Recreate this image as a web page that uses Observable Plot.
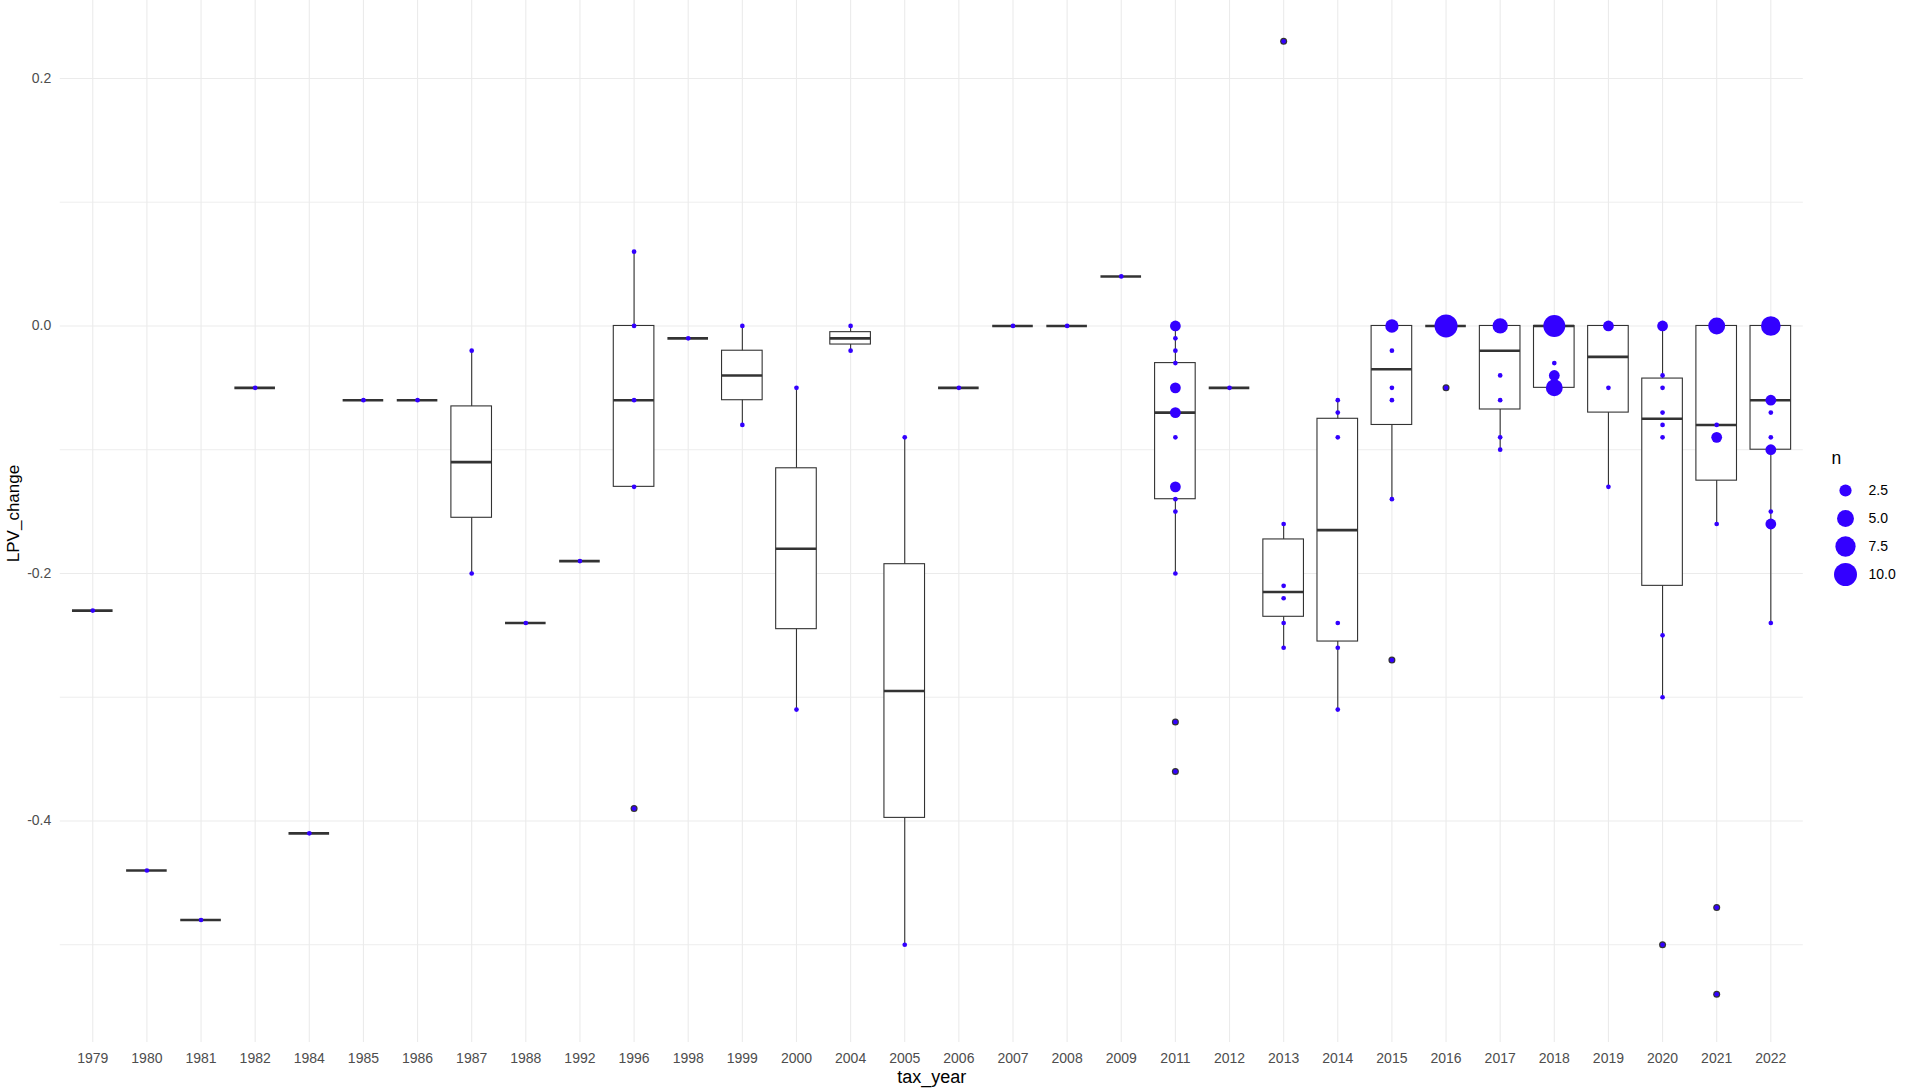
<!DOCTYPE html>
<html>
<head>
<meta charset="utf-8">
<script src="https://cdn.jsdelivr.net/npm/d3@7"></script>
<script src="https://cdn.jsdelivr.net/npm/@observablehq/plot@0.6"></script>
<style>
html, body { margin: 0; padding: 0; background: #ffffff; }
#wrap { position: relative; width: 1914px; height: 1091px; overflow: hidden; }
#legend { position: absolute; left: 1800px; top: 440px; }
</style>
</head>
<body>
<div id="wrap"><div id="chart"></div><div id="legend"></div></div>
<script>
// ---- data ----
const years = ["1979","1980","1981","1982","1984","1985","1986","1987","1988","1992","1996","1998","1999","2000","2004","2005","2006","2007","2008","2009","2011","2012","2013","2014","2015","2016","2017","2018","2019","2020","2021","2022"];

const pointYear = [
  1979,1980,1981,1982,1984,1985,1986,1987,1987,1988,1992,
  1996,1996,1996,1996,1996,1998,1999,1999,2000,2000,2004,2004,2005,2005,2006,2007,2008,2009,
  2011,2011,2011,2011,2011,2011,2011,2011,2011,2011,2011,2011,2011,
  2012,
  2013,2013,2013,2013,2013,2013,
  2014,2014,2014,2014,2014,2014,
  2015,2015,2015,2015,2015,2015,
  2016,2016,
  2017,2017,2017,2017,2017,
  2018,2018,2018,2018,
  2019,2019,2019,
  2020,2020,2020,2020,2020,2020,2020,2020,2020,
  2021,2021,2021,2021,2021,2021,
  2022,2022,2022,2022,2022,2022,2022,2022
];
const pointValue = [
  -0.23,-0.44,-0.48,-0.05,-0.41,-0.06,-0.06,-0.02,-0.20,-0.24,-0.19,
  0.06,0.00,-0.06,-0.13,-0.39,-0.01,0.00,-0.08,-0.05,-0.31,0.00,-0.02,-0.09,-0.50,-0.05,0.00,0.00,0.04,
  0.00,-0.01,-0.02,-0.03,-0.05,-0.07,-0.09,-0.13,-0.14,-0.15,-0.20,-0.32,-0.36,
  -0.05,
  0.23,-0.16,-0.21,-0.22,-0.24,-0.26,
  -0.06,-0.07,-0.09,-0.24,-0.26,-0.31,
  0.00,-0.02,-0.05,-0.06,-0.14,-0.27,
  0.00,-0.05,
  0.00,-0.04,-0.06,-0.09,-0.10,
  0.00,-0.03,-0.04,-0.05,
  0.00,-0.05,-0.13,
  0.00,-0.04,-0.05,-0.07,-0.08,-0.09,-0.25,-0.30,-0.50,
  0.00,-0.08,-0.09,-0.16,-0.47,-0.54,
  0.00,-0.06,-0.07,-0.09,-0.10,-0.15,-0.16,-0.24
];
const pointCount = [
  1,1,1,1,1,1,1,1,1,1,1,
  1,1,1,1,1,1,1,1,1,1,1,1,1,1,1,1,1,1,
  2,1,1,1,2,2,1,2,1,1,1,1,1,
  1,
  1,1,1,1,1,1,
  1,1,1,1,1,1,
  3,1,1,1,1,1,
  10,1,
  4,1,1,1,1,
  9,1,2,5,
  2,1,1,
  2,1,1,1,1,1,1,1,1,
  5,1,2,1,1,1,
  7,2,1,1,2,1,2,1
];

const yMajorTicks = [-0.4, -0.2, 0, 0.2];
const yMinorTicks = [-0.5, -0.3, -0.1, 0.1];
const yDomain = [-0.579, 0.263];
const legendCounts = [2.5, 5, 7.5, 10];
const countMax = 10;

// ---- styles ----
const FONT = "'Liberation Sans', Arial, Helvetica, sans-serif";
const BLUE = "#3300FF";
const BOX = "#333333";
const GRID = "#EBEBEB";
const R_MIN = 2.35, R_MAX = 11.5;

// ---- derived tables ----
const points = pointYear.map((yr, i) => ({year: String(yr), value: pointValue[i], n: pointCount[i]}));
const stats = years.map(yr => {
  const vals = points.filter(p => p.year === yr)
    .flatMap(p => Array(p.n).fill(p.value)).sort(d3.ascending);
  const q1 = d3.quantile(vals, 0.25), med = d3.quantile(vals, 0.5), q3 = d3.quantile(vals, 0.75);
  const iqr = q3 - q1, eps = 1e-9;
  const inside = vals.filter(v => v >= q1 - 1.5 * iqr - eps && v <= q3 + 1.5 * iqr + eps);
  return {year: yr, q1, med, q3, lo: d3.min(inside), hi: d3.max(inside)};
});
const statByYear = new Map(stats.map(s => [s.year, s]));
const outliers = points.filter(p => {
  const s = statByYear.get(p.year);
  return p.value < s.lo - 1e-9 || p.value > s.hi + 1e-9;
});
const rScale = {type: "sqrt", domain: [0, countMax - 1], range: [R_MIN, R_MAX]};

const chart = Plot.plot({
  width: 1914,
  height: 1091,
  marginLeft: 59.8,
  marginRight: 111.2,
  marginTop: 0,
  marginBottom: 49,
  style: {fontFamily: FONT, fontSize: "14px", background: "#ffffff", color: "#000000"},
  x: {type: "band", domain: years, paddingInner: 0.25, paddingOuter: 0.225, align: 0.5, round: false},
  y: {domain: yDomain},
  r: rScale,
  marks: [
    Plot.gridY(yMinorTicks, {stroke: GRID, strokeOpacity: 1, strokeWidth: 0.9}),
    Plot.gridY(yMajorTicks, {stroke: GRID, strokeOpacity: 1, strokeWidth: 1.1}),
    Plot.gridX(years, {stroke: GRID, strokeOpacity: 1, strokeWidth: 1.1}),
    Plot.axisX({tickSize: 0, tickPadding: 11, fontSize: 14, color: "#4D4D4D", label: null}),
    Plot.axisY(yMajorTicks, {tickSize: 0, tickPadding: 9, fontSize: 14, color: "#4D4D4D", label: null, tickFormat: d => d.toFixed(1)}),
    Plot.ruleX(stats, {x: "year", y1: "lo", y2: "hi", stroke: BOX, strokeWidth: 1.1}),
    Plot.barY(stats, {x: "year", y1: "q1", y2: "q3", fill: "#ffffff", stroke: BOX, strokeWidth: 1.1}),
    Plot.tickY(stats, {x: "year", y: "med", stroke: BOX, strokeWidth: 2.6}),
    Plot.dot(outliers, {x: "year", y: "value", r: 3.5, fill: BOX, stroke: "none"}),
    Plot.dot(points.filter(p => p.n === 1), {x: "year", y: "value", r: R_MIN, fill: BLUE, stroke: "none"}),
    Plot.dot(points.filter(p => p.n > 1), {x: "year", y: "value", r: d => d.n - 1, fill: BLUE, stroke: "none"}),
    Plot.text(["tax_year"], {frameAnchor: "bottom", text: d => d, dy: 35, textAnchor: "middle", lineAnchor: "middle", fontSize: 18, fill: "#000000"}),
    Plot.text(["LPV_change"], {frameAnchor: "left", text: d => d, rotate: -90, dx: -47, dy: -8, textAnchor: "middle", lineAnchor: "middle", fontSize: 17, fill: "#000000"})
  ]
});
document.getElementById("chart").appendChild(chart);

const fmt = d => d.toFixed(1);
const legend = Plot.plot({
  width: 114,
  height: 160,
  marginLeft: 45,
  marginRight: 0,
  marginTop: 0,
  marginBottom: 0,
  style: {fontFamily: FONT, fontSize: "14px", background: "transparent", color: "#000000"},
  x: {axis: null},
  y: {type: "point", domain: legendCounts.map(fmt), range: [48.3, 135], padding: 0, axis: null},
  r: rScale,
  marks: [
    Plot.text(["n"], {frameAnchor: "top-left", text: d => d, dx: -14, dy: 18, lineAnchor: "middle", textAnchor: "start", fontSize: 17.5, fill: "#000000"}),
    Plot.dot(legendCounts, {y: d => fmt(d), r: d => d - 1, frameAnchor: "left", fill: BLUE, stroke: "none"}),
    Plot.text(legendCounts, {y: d => fmt(d), text: fmt, frameAnchor: "left", dx: 23, textAnchor: "start", lineAnchor: "middle", fontSize: 14, fill: "#000000"})
  ]
});
document.getElementById("legend").appendChild(legend);
</script>
</body>
</html>
